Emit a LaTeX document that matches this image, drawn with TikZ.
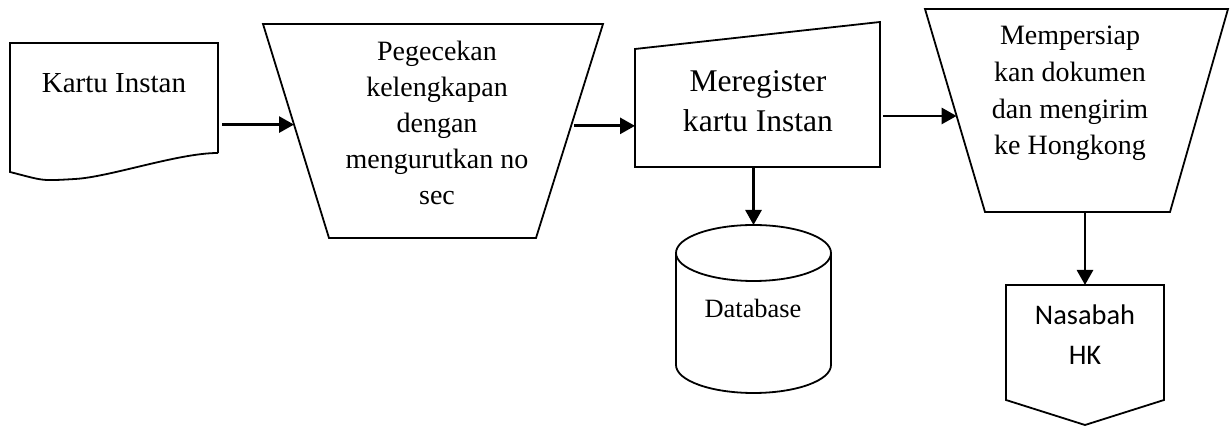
\documentclass[tikz,border=0pt]{standalone}
\usepackage{fontspec}
\setmainfont{Liberation Serif}
\newfontfamily\calibrifont{Carlito}
\usetikzlibrary{arrows.meta,calc}
\tikzset{
    outline/.style={draw=black,line width=0.9pt},
    shapebox/.style={draw=none,rectangle,inner sep=0pt,outer sep=0pt},
    txtnode/.style={align=center,inner sep=0pt},
    flowarrow/.style={-{Triangle[length=7.5pt,width=8pt]},draw=black,line width=1.4pt}
}
\begin{document}
\begin{tikzpicture}[x=0.5pt,y=-0.5pt]
    \useasboundingbox (0,0) rectangle (1232,426);
    % shapes
    \node[shapebox,minimum width=104pt,minimum height=55pt] (kartu) at (114,98) {};
    \node[shapebox,minimum width=170pt,minimum height=107pt] (cek) at (433,131) {};
    \node[shapebox,minimum width=122.5pt,minimum height=72.5pt] (reg) at (757.5,94.5) {};
    \node[shapebox,minimum width=77.5pt,minimum height=84pt] (db) at (753.5,309) {};
    \node[shapebox,minimum width=151.5pt,minimum height=101.5pt] (kirim) at (1076.5,110.5) {};
    \node[shapebox,minimum width=79pt,minimum height=70pt] (hk) at (1085,355) {};
    % outlines
    \draw[outline] (kartu.south east) -- (kartu.north east) -- (kartu.north west)
      -- ([yshift=-9.5pt]kartu.south west)
      .. controls +(35,9) and +(-35,2) .. ([xshift=32.5pt,yshift=-13pt]kartu.south west)
      .. controls +(35,-2) and +(-40,0) .. (kartu.south east);
    \draw[outline] (cek.north west) -- (cek.north east) -- ([xshift=-33.5pt]cek.south east)
      -- ([xshift=33pt]cek.south west) -- cycle;
    \draw[outline] (reg.south west) -- (reg.south east) -- (reg.north east)
      -- ([yshift=-13.5pt]reg.north west) -- cycle;
    \draw[outline] ([yshift=-14pt]db.north west)
      arc[start angle=180,end angle=360,x radius=38.75pt,y radius=14pt]
      arc[start angle=0,end angle=180,x radius=38.75pt,y radius=14pt]
      -- ([yshift=14pt]db.south west)
      arc[start angle=180,end angle=360,x radius=38.75pt,y radius=14pt]
      -- ([yshift=-14pt]db.north east);
    \draw[outline] (kirim.north west) -- (kirim.north east) -- ([xshift=-29pt]kirim.south east)
      -- ([xshift=30pt]kirim.south west) -- cycle;
    \draw[outline] (hk.north west) -- (hk.north east) -- ([yshift=12.5pt]hk.south east)
      -- (hk.south) -- ([yshift=12.5pt]hk.south west) -- cycle;
    % ports on the slanted sides
    \coordinate (cekin) at ($(cek.north west)!0.47!([xshift=33pt]cek.south west)$);
    \coordinate (cekout) at ($(cek.north east)!0.476!([xshift=-33.5pt]cek.south east)$);
    \coordinate (kirimin) at ($(kirim.north west)!0.527!([xshift=30pt]kirim.south west)$);
    % texts
    \node[txtnode,font=\fontsize{14.5}{18}\selectfont] (kartutext) at (114,83.5) {Kartu Instan};
    \node[txtnode,font=\fontsize{14}{18}\selectfont] (cektext) at (437,123)
      {Pegecekan\\kelengkapan\\dengan\\mengurutkan no\\sec};
    \node[txtnode,font=\fontsize{15.8}{20}\selectfont] (regtext) at (758,101.5) {Meregister\\kartu Instan};
    \node[txtnode,font=\fontsize{13.2}{16}\selectfont] (dbtext) at (753,308) {Database};
    \node[txtnode,font=\fontsize{14}{18.3}\selectfont] (kirimtext) at (1070,93.5)
      {Mempersiap\\kan dokumen\\dan mengirim\\ke Hongkong};
    \node[txtnode,font=\calibrifont\fontsize{14.2}{20}\selectfont] (hktext) at (1085,335) {Nasabah\\HK};
    % arrows
    \draw[flowarrow,shorten <=2pt] (kartu.east |- cekin) -- (cekin);
    \draw[flowarrow,shorten <=1.5pt] (cekout) -- (cekout -| reg.west);
    \draw[flowarrow] (reg.south -| db.north) -- (db.north);
    \draw[flowarrow,shorten <=1.5pt] (reg.east |- kirimin) -- (kirimin);
    \draw[flowarrow] (kirim.south -| hk.north) -- (hk.north);
\end{tikzpicture}
\end{document}
